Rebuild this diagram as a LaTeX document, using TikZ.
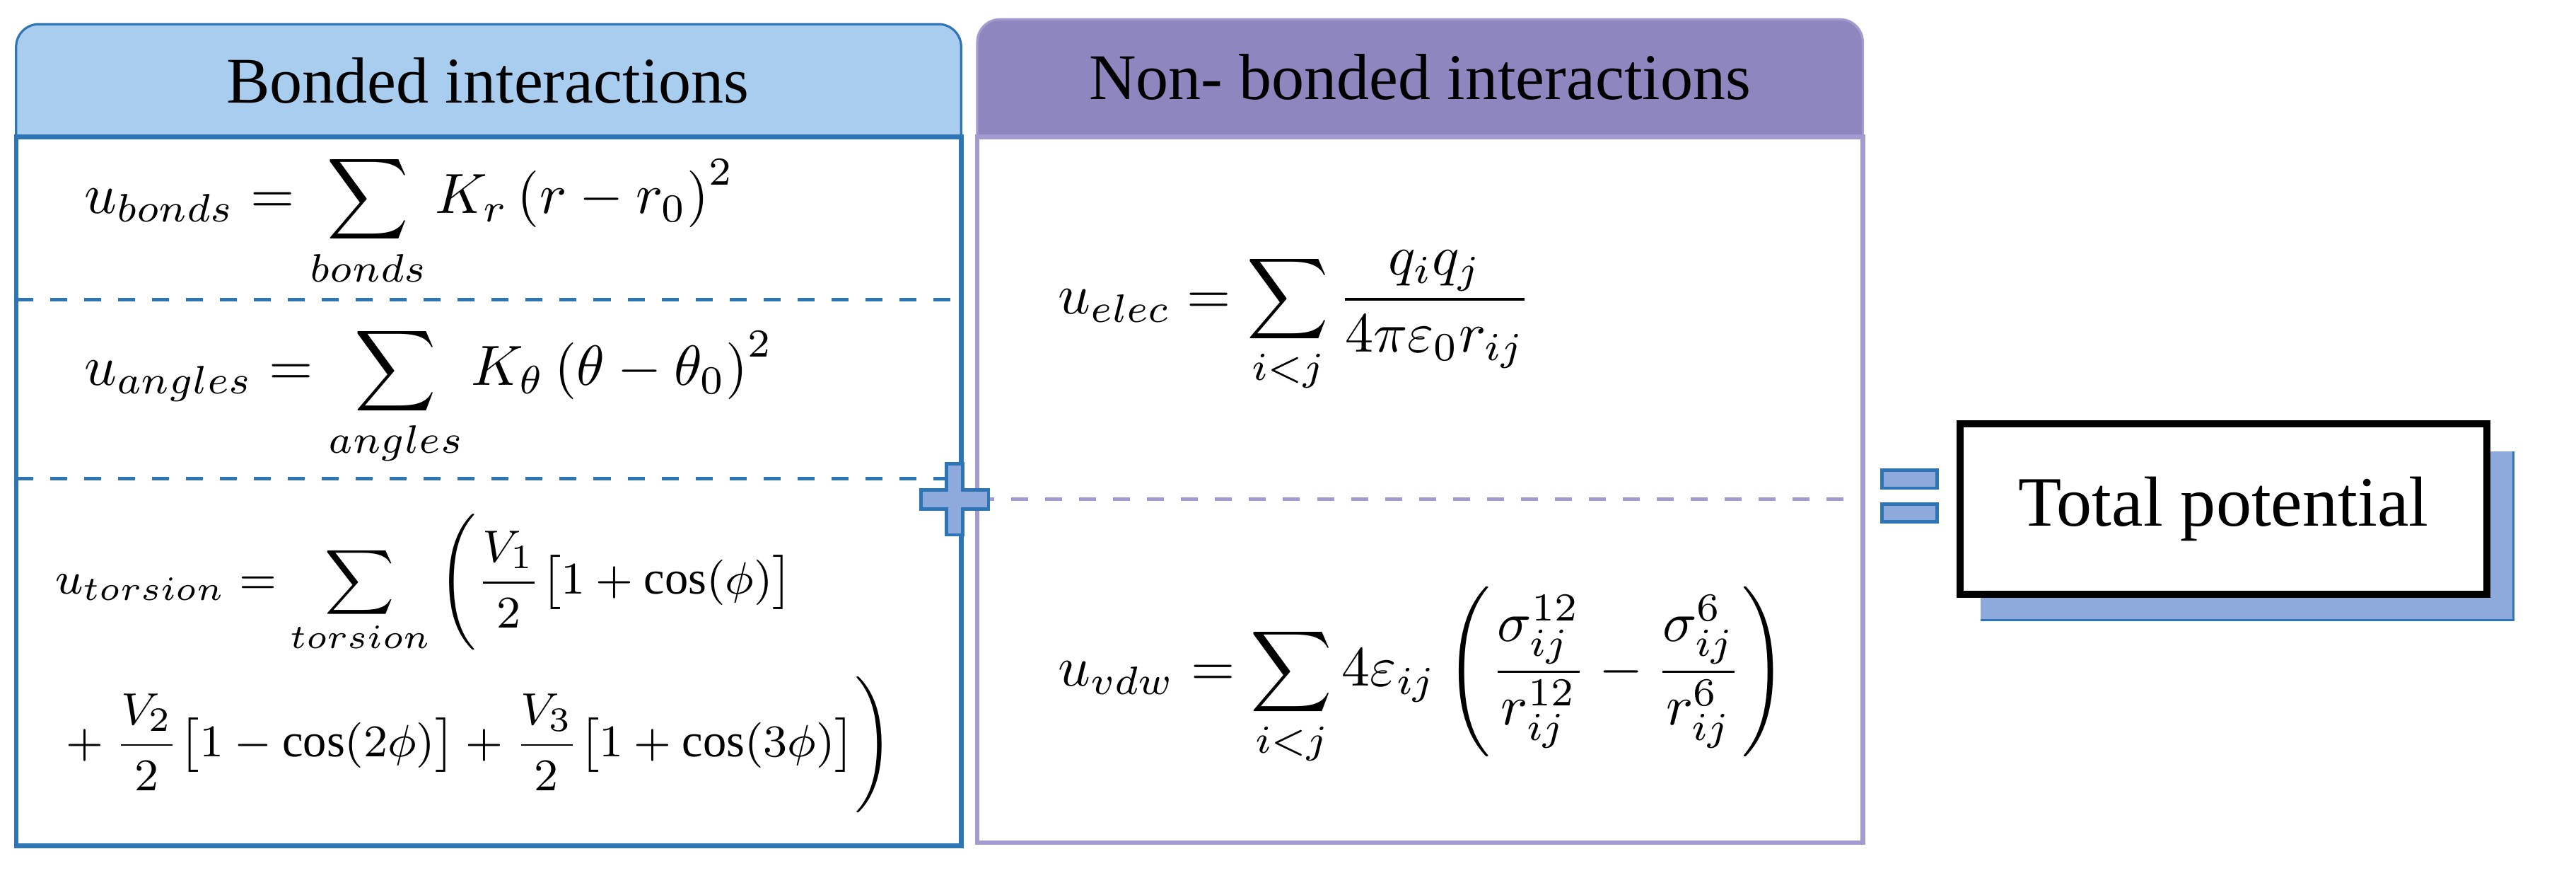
\documentclass[tikz,border=0pt]{standalone}
\usepackage{amsmath}
\usepackage{fontspec}
\setmainfont{Liberation Serif}
\usetikzlibrary{calc,positioning}
\definecolor{bondblue}{HTML}{2E75B6}
\definecolor{headblue}{HTML}{A9CDEE}
\definecolor{nbpurple}{HTML}{8E86BF}
\definecolor{nbline}{HTML}{A39BD0}
\definecolor{signblue}{HTML}{8EA9DB}
\begin{document}
\begin{tikzpicture}[x=0.01cm, y=-0.01cm,
    head/.style={font=\fontsize{11.5}{13}\selectfont},
    eqn/.style={font=\fontsize{10}{12}\selectfont, anchor=west},
    sep/.style={dashed, line width=0.6pt}]
    \useasboundingbox (0,0) rectangle (1600,545);
    % bonded box
    \draw[bondblue, fill=headblue, rounded corners=4pt] (10,85) -- (10,15) -- (597,15) -- (597,85);
    \draw[bondblue, line width=0.8pt] (10,85) rectangle (597,525);
    \node[head] (bh) at (303,50) {Bonded interactions};
    \coordinate (b1l) at (10,186); \coordinate (b1r) at (597,186);
    \coordinate (b2l) at (10,297); \coordinate (b2r) at (597,297);
    \draw[sep, bondblue] (b1l) -- (b1r);
    \draw[sep, bondblue] (b2l) -- (b2r);
    \node[eqn] (ebond) at (40,137) {$\displaystyle u_{bonds}=\sum_{bonds}K_r\left(r-r_0\right)^2$};
    \node[eqn] (eangle) at (40,246) {$\displaystyle u_{angles}=\sum_{angles}K_\theta\left(\theta-\theta_0\right)^2$};
    \node[eqn, font=\fontsize{8.3}{10}\selectfont] (etors) at (22,412) {$\begin{aligned}
      &u_{torsion}=\sum_{torsion}\Bigg(\frac{V_1}{2}\big[1+\cos(\phi)\big]\\
      &+\frac{V_2}{2}\big[1-\cos(2\phi)\big]+\frac{V_3}{2}\big[1+\cos(3\phi)\big]\Bigg)
    \end{aligned}$};
    % non-bonded box
    \draw[nbline, fill=nbpurple, rounded corners=4pt] (607,85) -- (607,12) -- (1157,12) -- (1157,85);
    \draw[nbline, line width=0.8pt] (607,85) rectangle (1157,523);
    \node[head] (nh) at (882,48) {Non- bonded interactions};
    \coordinate (n1l) at (607,310); \coordinate (n1r) at (1157,310);
    \draw[sep, nbline] (n1l) -- (n1r);
    \node[eqn] (eelec) at (645,200) {$\displaystyle u_{elec}=\sum_{i<j}\frac{q_iq_j}{4\pi\varepsilon_0 r_{ij}}$};
    \node[eqn] (evdw) at (645,420) {$\displaystyle u_{vdw}=\sum_{i<j}4\varepsilon_{ij}\left(\frac{\sigma_{ij}^{12}}{r_{ij}^{12}}-\frac{\sigma_{ij}^{6}}{r_{ij}^{6}}\right)$};
    % plus and equals
    \draw[bondblue, fill=signblue, line width=0.6pt]
      (588,288) -- (598,288) -- (598,304) -- (614,304) -- (614,316) -- (598,316) -- (598,332)
      -- (588,332) -- (588,316) -- (572,316) -- (572,304) -- (588,304) -- cycle;
    \draw[bondblue, fill=signblue, line width=0.6pt] (1169,292) rectangle (1203,303);
    \draw[bondblue, fill=signblue, line width=0.6pt] (1169,313) rectangle (1203,324);
    % total
    \fill[signblue] (1230,280) rectangle (1561,385);
    \draw[bondblue] (1230,385) -- (1561,385) -- (1561,280);
    \node[draw, line width=1.2pt, fill=white, minimum width=3.27cm, minimum height=1.06cm,
      font=\fontsize{12.5}{15}\selectfont] (tot) at (1381,316) {Total potential};
\end{tikzpicture}
\end{document}
